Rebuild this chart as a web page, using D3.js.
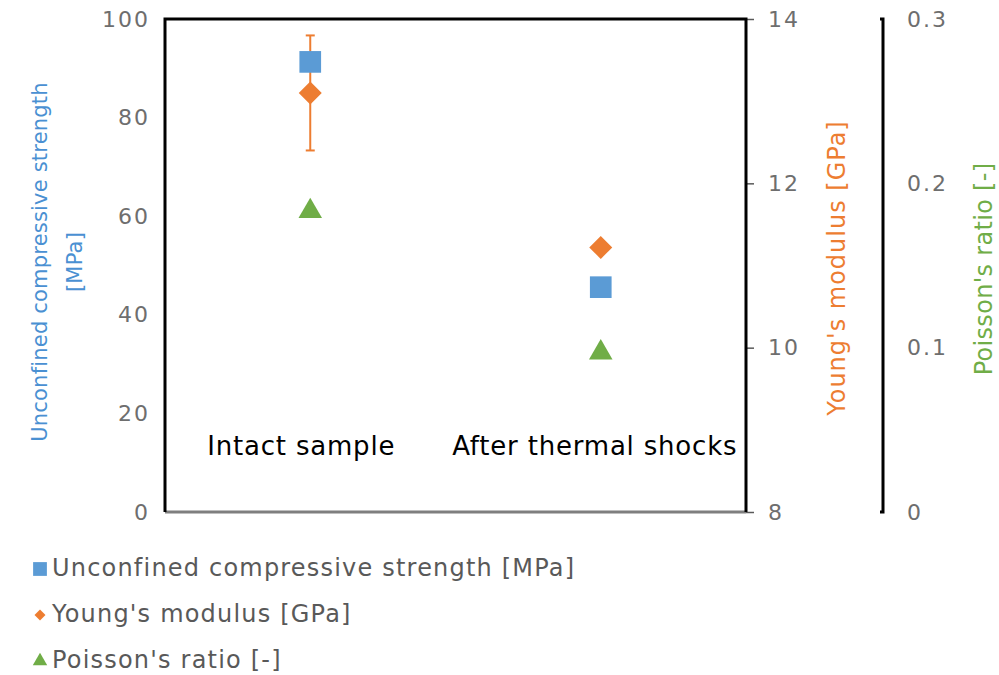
<!DOCTYPE html>
<html><head><meta charset="utf-8">
<script src="https://cdn.jsdelivr.net/npm/d3@7"></script>
<style>body{margin:0;background:#fff}svg{display:block}text{font-family:"DejaVu Sans",sans-serif}</style>
</head><body>
<script>
const categories = ["Intact sample", "After thermal shocks"];
const ucs = [91.3, 45.6];
const young = [13.1, 11.22];
const youngErr = [0.7, 0];
const poisson = [0.183, 0.097];
const ucsTicks = [0, 20, 40, 60, 80, 100];
const youngTicks = [8, 10, 12, 14];
const poissonTicks = [0, 0.1, 0.2, 0.3];
const seriesNames = ["Unconfined compressive strength [MPa]", "Young's modulus [GPa]", "Poisson's ratio [-]"];
const colors = ["#5B9BD5", "#ED7D31", "#70AD47"];

const W = 999, H = 675;
const L = 165, R = 746, T = 19, B = 512;
const svg = d3.select("body").append("svg").attr("width", W).attr("height", H);

const x = d3.scaleBand().domain(categories).range([L, R]).paddingInner(0).paddingOuter(0);
const yU = d3.scaleLinear().domain([0, 100]).range([B, T]);
const yY = d3.scaleLinear().domain([8, 14]).range([B, T]);
const yP = d3.scaleLinear().domain([0, 0.3]).range([B, T]);
const grey = "#595959";
const tickGrey = "#6e6e6e";
const tickStyle = sel => sel.attr("fill", tickGrey).style("font-size", "22px").style("font-family", "DejaVu Sans").style("letter-spacing", "2px");

// left axis
const gL = svg.append("g").attr("transform", `translate(${L},0)`)
  .call(d3.axisLeft(yU).tickValues(ucsTicks).tickSize(0).tickPadding(15));
gL.select(".domain").remove();
tickStyle(gL.selectAll("text"));

// right Young's axis
const gR = svg.append("g").attr("transform", `translate(${R},0)`)
  .call(d3.axisRight(yY).tickValues(youngTicks).tickSize(8).tickPadding(14).tickFormat(d3.format("d")));
gR.select(".domain").remove();
gR.selectAll("line").attr("stroke", grey).attr("stroke-width", 1.5);
tickStyle(gR.selectAll("text"));

// Poisson axis
const PX = 883;
const gP = svg.append("g").attr("transform", `translate(${PX},0)`)
  .call(d3.axisRight(yP).tickValues(poissonTicks).tickSize(0).tickPadding(24).tickFormat(d => d === 0 ? "0" : d3.format(".1f")(d)));
gP.select(".domain").remove();
tickStyle(gP.selectAll("text"));
svg.append("path").attr("d", `M${PX-3},${T} H${PX} V${B} H${PX-3}`).attr("fill", "none").attr("stroke", "#000").attr("stroke-width", 3);

// plot frame
svg.append("line").attr("x1", L).attr("x2", R).attr("y1", B).attr("y2", B).attr("stroke", "#7f7f7f").attr("stroke-width", 3);
svg.append("path").attr("d", `M${L},${B} V${T} H${R} V${B}`).attr("fill", "none").attr("stroke", "#000").attr("stroke-width", 3);

// category labels inside plot
const gX = svg.append("g").attr("transform", `translate(0,${B - 66})`)
  .call(d3.axisBottom(x).tickSize(0).tickPadding(0));
gX.select(".domain").remove();
gX.selectAll("text").attr("fill", "#000").style("font-size", "26px").style("font-family", "DejaVu Sans").style("letter-spacing", "0.8px").attr("dy", "0.35em")
  .attr("transform", (d, i) => `translate(${i === 0 ? -9 : -6},0)`);

// titles
const tL = svg.append("text").attr("transform", `translate(55,262) rotate(-90)`).attr("text-anchor", "middle")
  .attr("fill", "#4a90d2").style("font-size", "21px").style("letter-spacing", "0.2px");
tL.append("tspan").attr("x", 0).attr("dy", -8).text("Unconfined compressive strength");
tL.append("tspan").attr("x", 0).attr("dy", 35).text("[MPa]");
svg.append("text").attr("transform", `translate(845,268) rotate(-90)`).attr("text-anchor", "middle")
  .attr("fill", colors[1]).style("font-size", "24px").style("letter-spacing", "1px").text(seriesNames[1]);
svg.append("text").attr("transform", `translate(992,269) rotate(-90)`).attr("text-anchor", "middle")
  .attr("fill", colors[2]).style("font-size", "24px").style("letter-spacing", "0.3px").text(seriesNames[2]);

const cx = c => x(c) + x.bandwidth() / 2;
const sq = d3.symbol().type(d3.symbolSquare).size(470);
const dia = d3.symbol().type(d3.symbolSquare).size(265);
const tri = d3.symbol().type(d3.symbolTriangle).size(240);

// error bars on Young's
categories.forEach((c, i) => {
  if (youngErr[i] > 0) {
    const g = svg.append("g").attr("stroke", colors[1]).attr("stroke-width", 2);
    g.append("line").attr("x1", cx(c)).attr("x2", cx(c)).attr("y1", yY(young[i] + youngErr[i])).attr("y2", yY(young[i] - youngErr[i]));
    [young[i] + youngErr[i], young[i] - youngErr[i]].forEach(v =>
      g.append("line").attr("x1", cx(c) - 4.5).attr("x2", cx(c) + 4.5).attr("y1", yY(v)).attr("y2", yY(v)));
  }
});

svg.selectAll(".ucs").data(categories).enter().append("path").attr("d", sq)
  .attr("transform", (c, i) => `translate(${cx(c)},${yU(ucs[i])})`).attr("fill", colors[0]);
svg.selectAll(".yng").data(categories).enter().append("path").attr("d", dia)
  .attr("transform", (c, i) => `translate(${cx(c)},${yY(young[i])}) rotate(45)`).attr("fill", colors[1]);
svg.selectAll(".poi").data(categories).enter().append("path").attr("d", tri)
  .attr("transform", (c, i) => `translate(${cx(c)},${yP(poisson[i])})`).attr("fill", colors[2]);

// legend
const lg = svg.append("g");
const ly = [568, 614, 660];
const lsym = [d3.symbol().type(d3.symbolSquare).size(190), d3.symbol().type(d3.symbolSquare).size(60), d3.symbol().type(d3.symbolTriangle).size(90)];
const lrot = [0, 45, 0];
seriesNames.forEach((n, i) => {
  lg.append("path").attr("d", lsym[i]).attr("transform", `translate(40,${ly[i] + 1}) rotate(${lrot[i]})`).attr("fill", colors[i]);
  lg.append("text").attr("x", 52).attr("y", ly[i]).attr("dy", "0.35em").attr("fill", grey)
    .style("font-size", "24px").style("letter-spacing", "1.2px").text(n);
});
</script>
</body></html>
